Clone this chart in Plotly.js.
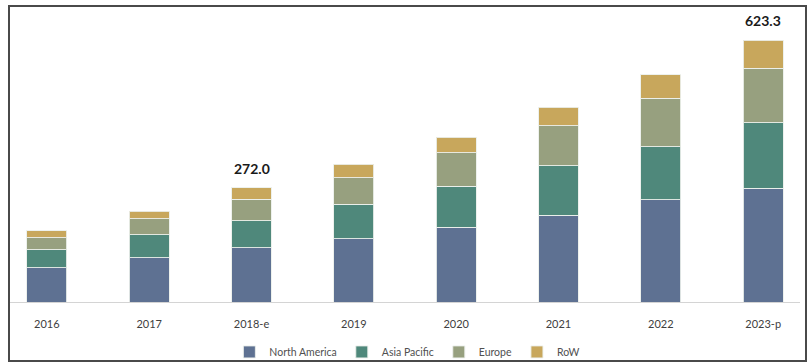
<!DOCTYPE html>
<html>
<head>
<meta charset="utf-8">
<script src="https://cdn.plot.ly/plotly-3.0.1.min.js"></script>
<style>html,body{margin:0;padding:0;background:#fff;}#chart{width:809px;height:364px;}</style>
</head>
<body>
<div id="chart"></div>
<script>
const categories = ["2016", "2017", "2018-e", "2019", "2020", "2021", "2022", "2023-p"];
const northAmerica = [81, 105, 129, 150, 178, 207, 243, 270.5];
const asiaPacific  = [43, 55, 64, 83, 98, 117, 127, 156.0];
const europe       = [29, 38, 52, 63, 79, 95, 115, 129.5];
const row          = [17, 18, 27, 32, 37, 45, 55.5, 67.3];
const labelledCategories = ["2018-e", "2023-p"];

const seriesNames = ["North America", "Asia Pacific", "Europe", "RoW"];
const seriesValues = [northAmerica, asiaPacific, europe, row];
const seriesColors = ["#5e7192", "#4f887b", "#97a07f", "#c8a75c"];

const traces = seriesValues.map((vals, i) => ({
  type: "bar",
  name: seriesNames[i],
  x: categories,
  y: vals,
  marker: {color: seriesColors[i], line: {color: "rgba(235,240,235,0.9)", width: 1}},
  hoverinfo: "skip"
}));

const totals = categories.map((c, k) => seriesValues.reduce((s, arr) => s + arr[k], 0));
const annotations = labelledCategories.map(c => {
  const k = categories.indexOf(c);
  return {
    x: c, y: totals[k], xref: "x", yref: "y",
    text: "<b>" + totals[k].toFixed(1) + "</b>",
    showarrow: false, yanchor: "bottom", yshift: 9,
    font: {family: "Lato, 'Open Sans', sans-serif", size: 14, color: "#1a1a1a"}
  };
});

const layout = {
  width: 809, height: 364,
  margin: {l: 10, r: 9, t: 10, b: 62, autoexpand: false},
  paper_bgcolor: "#ffffff", plot_bgcolor: "#ffffff",
  barmode: "stack",
  bargap: 0.61,
  showlegend: true,
  legend: {
    orientation: "h", x: 0.503, xanchor: "center", xref: "paper",
    y: -0.171, yanchor: "middle", traceorder: "normal",
    bgcolor: "rgba(0,0,0,0)",
    font: {family: "Lato, 'Open Sans', sans-serif", size: 10.5, color: "#505050"},
    itemwidth: 30, tracegroupgap: 0
  },
  xaxis: {
    type: "category",
    range: [-0.36, 7.36],
    showline: true, linecolor: "#d4d4d4", linewidth: 1,
    showgrid: false, zeroline: false, ticks: "",
    ticklabelstandoff: 12,
    tickfont: {family: "Lato, 'Open Sans', sans-serif", size: 11, color: "#404040"},
    fixedrange: true
  },
  yaxis: {
    range: [0, 695], visible: false, showgrid: false, zeroline: false, fixedrange: true
  },
  annotations: annotations,
  shapes: [{
    type: "rect", xref: "paper", yref: "paper",
    x0: -1/790, x1: 796/790, y0: (302-361)/292, y1: (302-6)/292,
    line: {color: "#4a4a4a", width: 2}, fillcolor: "rgba(0,0,0,0)", layer: "above"
  }]
};

Plotly.newPlot("chart", traces, layout, {displayModeBar: false, staticPlot: true});
</script>
</body>
</html>
